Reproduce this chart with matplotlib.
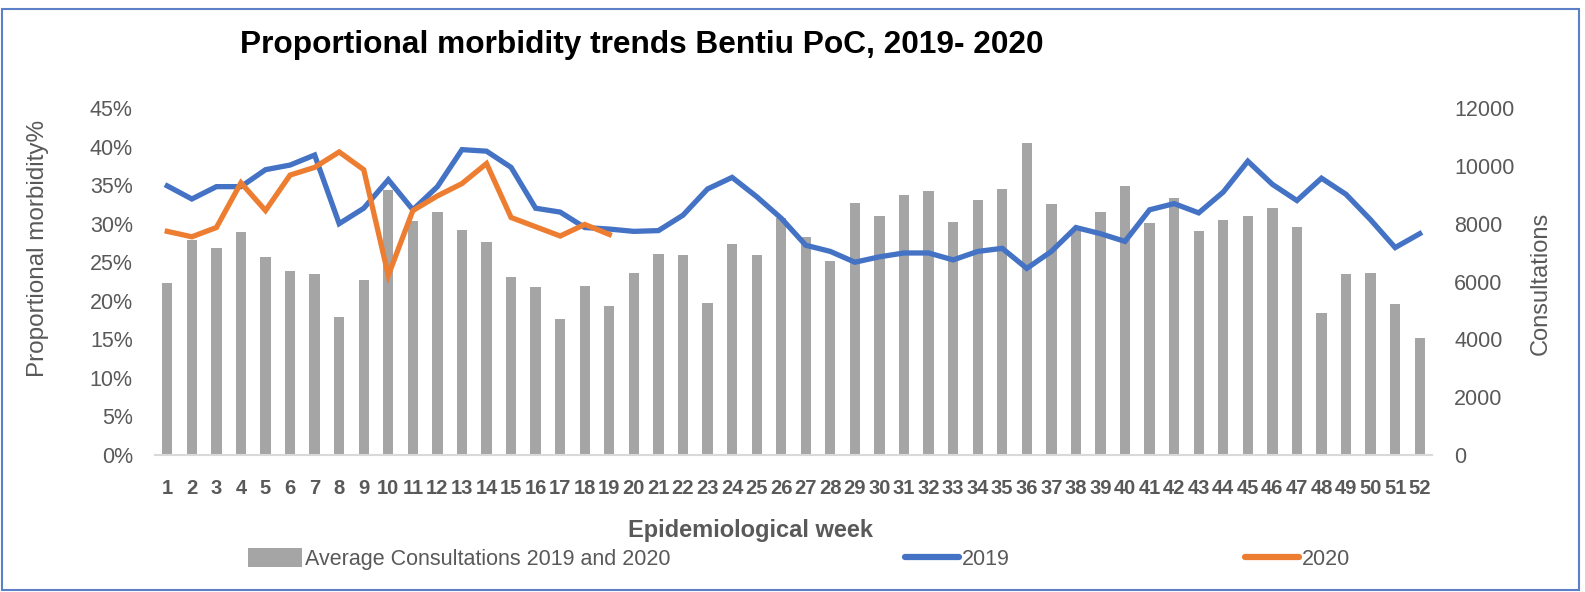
import matplotlib
matplotlib.use("Agg")
import matplotlib.pyplot as plt
from matplotlib.patches import Rectangle, Patch
from matplotlib.lines import Line2D
import numpy as np

weeks = list(range(1, 53))
consultations = [5940, 7430, 7170, 7700, 6860, 6360, 6250, 4770, 6050, 9160,
                 8090, 8400, 7780, 7380, 6140, 5800, 4690, 5830, 5160, 6280,
                 6940, 6900, 5270, 7300, 6900, 8180, 7530, 6720, 8700, 8270,
                 8980, 9120, 8050, 8810, 9200, 10800, 8670, 7780, 8400, 9290,
                 8010, 8900, 7730, 8140, 8270, 8540, 7880, 4910, 6250, 6290,
                 5220, 4030]
pm_2019 = [34.9, 33.2, 34.8, 34.8, 37.0, 37.6, 38.9, 30.0, 32.0, 35.7,
           31.8, 34.8, 39.6, 39.4, 37.3, 32.0, 31.5, 29.5, 29.3, 29.0,
           29.1, 31.1, 34.5, 36.0, 33.5, 30.7, 27.2, 26.4, 25.0, 25.7,
           26.2, 26.2, 25.3, 26.4, 26.8, 24.2, 26.4, 29.5, 28.7, 27.7,
           31.8, 32.6, 31.4, 34.1, 38.1, 35.1, 33.0, 35.9, 33.8, 30.5,
           26.9, 28.7]
pm_2020 = [29.0, 28.3, 29.5, 35.3, 31.7, 36.3, 37.3, 39.3, 37.0, 23.3,
           31.7, 33.6, 35.2, 37.8, 30.8, 29.6, 28.4, 29.9, 28.6]
weeks_2020 = weeks[:len(pm_2020)]
left_ticks = [0, 5, 10, 15, 20, 25, 30, 35, 40, 45]
right_ticks = [0, 2000, 4000, 6000, 8000, 10000, 12000]

TXT = "#595959"
BLUE = "#4472C4"
ORANGE = "#ED7D31"
GRAY = "#A5A5A5"
FONT = ["Liberation Sans", "DejaVu Sans"]
plt.rcParams["font.family"] = FONT

W, H = 1585, 592
fig = plt.figure(figsize=(W / 100, H / 100), dpi=100)
ax = fig.add_axes([155 / W, 1 - 455 / H, (1432 - 155) / W, (455 - 108) / H])
axb = ax.twinx()

axb.bar(weeks, consultations, width=0.42, color=GRAY, zorder=1)
ax.plot(weeks, pm_2019, color=BLUE, lw=3.8, solid_joinstyle="miter", zorder=3)
ax.plot(weeks_2020, pm_2020, color=ORANGE, lw=3.8, solid_joinstyle="miter", zorder=4)
ax.set_zorder(axb.get_zorder() + 1)
ax.patch.set_visible(False)

ax.set_xlim(0.5, 52.5)
ax.set_ylim(0, 45)
axb.set_ylim(0, 12000)
ax.set_yticks(left_ticks)
ax.set_yticklabels([f"{t}%" for t in left_ticks])
axb.set_yticks(right_ticks)
axb.set_yticklabels([str(t) for t in right_ticks])
ax.set_xticks(weeks)
ax.set_xticklabels([str(w) for w in weeks], fontweight="bold")

for a in (ax, axb):
    for s in a.spines.values():
        s.set_visible(False)
ax.spines["bottom"].set_visible(True)
ax.spines["bottom"].set_color("#D9D9D9")
ax.spines["bottom"].set_linewidth(1.5)

ax.tick_params(axis="x", length=0, pad=17, labelsize=14.5, labelcolor=TXT)
ax.tick_params(axis="y", length=0, pad=16, labelsize=15.5, labelcolor=TXT)
axb.tick_params(axis="y", length=0, pad=16, labelsize=15.5, labelcolor=TXT)

fig.text(38 / W, 1 - 248 / H, "Proportional morbidity%", rotation=90,
         ha="center", va="center", fontsize=17.5, color=TXT)
fig.text(1541 / W, 1 - 283 / H, "Consultations", rotation=90,
         ha="center", va="center", fontsize=17, color=TXT)
fig.text(750 / W, 1 - 531 / H, "Epidemiological week", ha="center", va="center",
         fontsize=17, fontweight="bold", color=TXT)

title = fig.text(240 / W, 1 - 53 / H, "Proportional morbidity trends Bentiu PoC, 2019- 2020",
                 ha="left", va="baseline", fontsize=20, fontweight="bold", color="black",
                 family=["Liberation Sans Narrow", "Liberation Sans", "DejaVu Sans"])
fig.canvas.draw()
bb = title.get_window_extent()
title.set_fontsize(20 * 802 / bb.width)

# legend entries
leg_y = 1 - 559 / H
entries = [
    (Patch(facecolor=GRAY, edgecolor="none"), "Average Consultations 2019 and 2020", 248),
    (Line2D([], [], color=BLUE, lw=4.5, solid_capstyle="round"), "2019", 905),
    (Line2D([], [], color=ORANGE, lw=4.5, solid_capstyle="round"), "2020", 1245),
]
for h, lab, x0 in entries:
    lg = fig.legend([h], [lab], loc="center left", bbox_to_anchor=(x0 / W, leg_y),
                    frameon=False, fontsize=15.5, handlelength=2.5, handleheight=1.0,
                    handletextpad=0.15, borderpad=0, borderaxespad=0)
    for t in lg.get_texts():
        t.set_color(TXT)

# outer border
fig.patches.append(Rectangle((2 / W, 2 / H), (1579 - 2) / W, (583 - 2) / H,
                             transform=fig.transFigure, fill=False,
                             edgecolor="#5B80C8", lw=1.5))

fig.savefig("out.png", dpi=100)
